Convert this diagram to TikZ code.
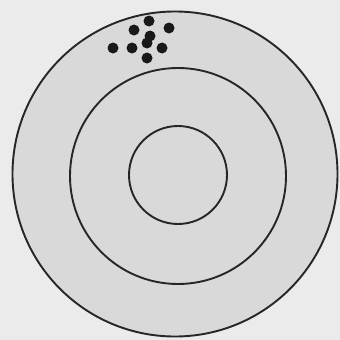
\documentclass[tikz,border=0pt]{standalone}
\begin{document}
\begin{tikzpicture}[x=1pt,y=-1pt,
  ring/.style={draw=black!85,line width=1.9pt},
  hit/.style={fill=black!90}]
\fill[black!8] (0,0) rectangle (340,340);
\useasboundingbox (0,0) rectangle (340,340);
\filldraw[ring,fill=black!15] (175,174) circle (162.5);
\draw[ring] (178,176) circle (108);
\draw[ring] (178,175) circle (49);
\foreach \p in {(149,21),(134,30),(169,28),(150,36),(113,48),(132,48),(147,43),(162,48),(147,58)}
  \fill[hit] \p circle (5.5);
\end{tikzpicture}
\end{document}
